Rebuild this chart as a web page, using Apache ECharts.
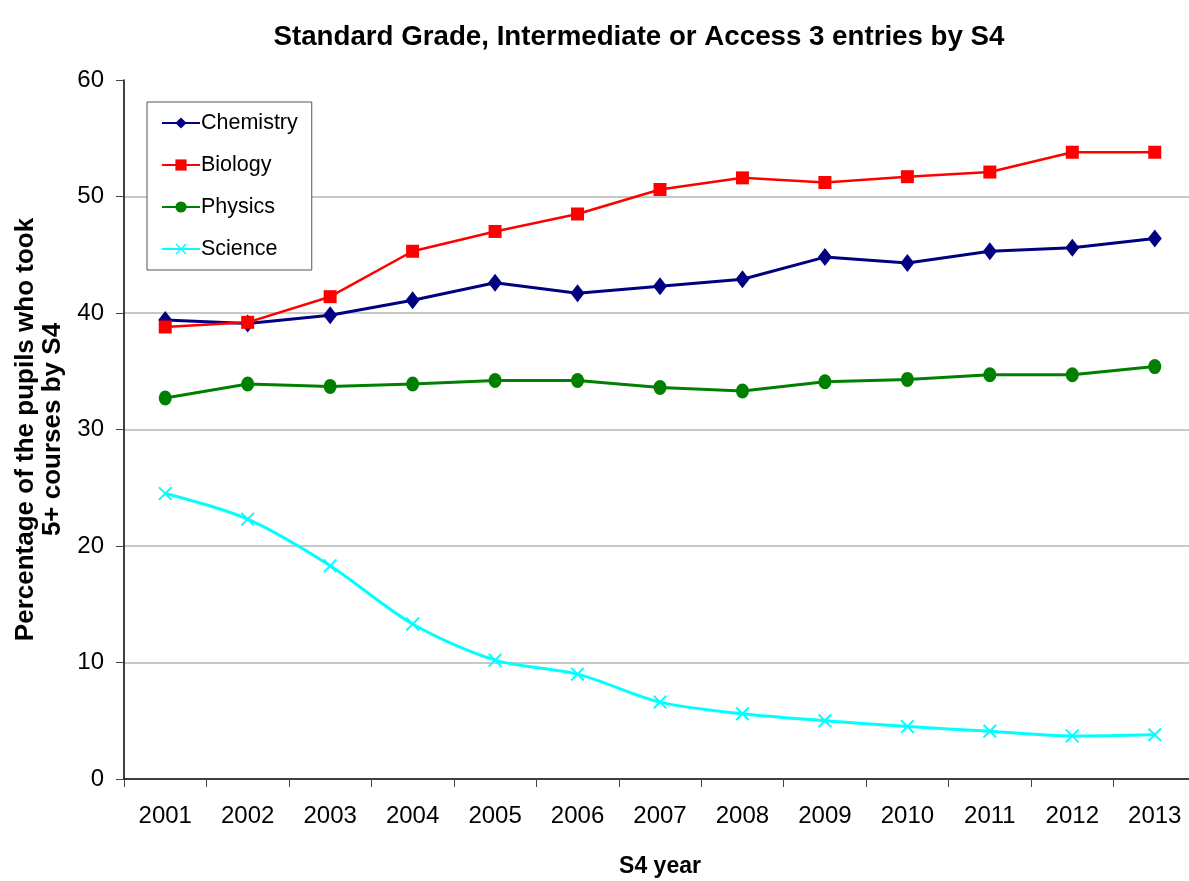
<!DOCTYPE html>
<html><head><meta charset="utf-8">
<script src="https://cdn.jsdelivr.net/npm/echarts@6/dist/echarts.min.js"></script>
<style>html,body{margin:0;padding:0;background:#fff}#c{width:1189px;height:881px}</style>
</head><body><div id="c"></div>
<script>
const years = ['2001','2002','2003','2004','2005','2006','2007','2008','2009','2010','2011','2012','2013'];
const chemistry = [39.4,39.1,39.8,41.1,42.6,41.7,42.3,42.9,44.8,44.3,45.3,45.6,46.4];
const biology   = [38.8,39.2,41.4,45.3,47.0,48.5,50.6,51.6,51.2,51.7,52.1,53.8,53.8];
const physics   = [32.7,33.9,33.7,33.9,34.2,34.2,33.6,33.3,34.1,34.3,34.7,34.7,35.4];
const science   = [24.5,22.3,18.3,13.3,10.2,9.0,6.6,5.6,5.0,4.5,4.1,3.7,3.8];
const yTicks = [0,10,20,30,40,50,60];

const font = 'Liberation Sans, Arial, sans-serif';
const xPath = 'path://M0,1L1,0L5,4L9,0L10,1L6,5L10,9L9,10L5,6L1,10L0,9L4,5Z';

const chart = echarts.init(document.getElementById('c'), null, {renderer:'canvas'});
chart.setOption({
  animation:false,
  backgroundColor:'#fff',
  title:{
    text:'Standard Grade, Intermediate or Access 3 entries by S4',
    left:634, top:18, textAlign:'center',
    textStyle:{fontFamily:font, fontWeight:'bold', fontSize:27.7, color:'#000'}
  },
  legend:{
    orient:'vertical', left:147, top:102,
    padding:[10,14,10,14],
    itemGap:20, itemWidth:38, itemHeight:14,
    borderColor:'#555', borderWidth:1, backgroundColor:'#fff',
    textStyle:{fontFamily:font, fontSize:21.5, color:'#000', padding:[0,0,0,-4]},
    data:['Chemistry','Biology','Physics','Science']
  },
  grid:{left:124, right:-7, top:80, bottom:102, containLabel:false, outerBoundsMode:'none'},
  xAxis:{
    type:'category', data:years, boundaryGap:true,
    name:'S4 year', nameLocation:'middle', nameGap:76,
    nameTextStyle:{fontFamily:font, fontWeight:'bold', fontSize:23, color:'#000'},
    axisLine:{lineStyle:{color:'#000', width:1.5}},
    axisTick:{show:true, length:8, lineStyle:{color:'#444'}},
    axisLabel:{fontFamily:font, fontSize:24, color:'#000', margin:25, interval:0}
  },
  yAxis:{
    type:'value', min:yTicks[0], max:yTicks[yTicks.length-1], interval:10,
    name:'Percentage of the pupils who took\n5+ courses by S4',
    nameLocation:'middle', nameGap:57, nameRotate:90,
    nameTextStyle:{fontFamily:font, fontWeight:'bold', fontSize:26, color:'#000', lineHeight:27},
    axisLine:{show:true, lineStyle:{color:'#000', width:1.5}},
    axisTick:{show:true, length:8, lineStyle:{color:'#444'}},
    axisLabel:{fontFamily:font, fontSize:24, color:'#000', margin:20},
    splitLine:{show:true, showMaxLine:false, showMinLine:false, lineStyle:{color:'#c8c8c8', width:2}}
  },
  series:[
    {name:'Chemistry', type:'line', data:chemistry, symbol:'diamond', symbolSize:[14,18],
     lineStyle:{color:'#000080', width:3}, itemStyle:{color:'#000080'}},
    {name:'Biology', type:'line', data:biology, symbol:'rect', symbolSize:13,
     lineStyle:{color:'#ff0000', width:2.5}, itemStyle:{color:'#ff0000'}},
    {name:'Physics', type:'line', data:physics, symbol:'circle', symbolSize:[13,15],
     lineStyle:{color:'#008000', width:3}, itemStyle:{color:'#008000'}},
    {name:'Science', type:'line', data:science, symbol:xPath, symbolSize:14, smooth:0.3,
     lineStyle:{color:'#00ffff', width:3}, itemStyle:{color:'#00ffff'}}
  ]
});
</script></body></html>
